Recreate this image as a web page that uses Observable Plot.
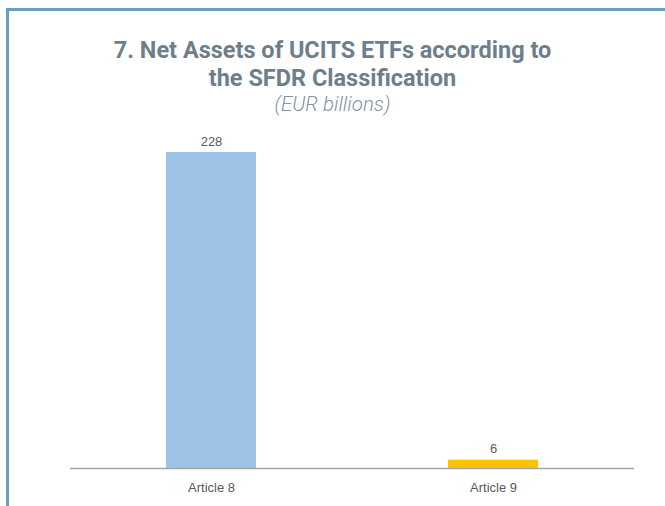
<!DOCTYPE html>
<html><head><meta charset="utf-8">
<script src="https://cdn.jsdelivr.net/npm/d3@7"></script>
<script src="https://cdn.jsdelivr.net/npm/@observablehq/plot@0.6"></script>
<style>
body{margin:0;background:#fff;font-family:Roboto,sans-serif;}
#frame{position:absolute;left:6px;top:8px;width:700px;height:520px;border-left:3px solid #6a9fc4;border-top:3px solid #6a9fc4;}
#title{position:absolute;left:0;width:665px;top:37px;text-align:center;font-family:Roboto,sans-serif;font-weight:700;font-size:23.5px;line-height:27.5px;color:#6e7f8b;}
#sub{position:absolute;left:0;width:665px;top:92px;text-align:center;font-family:Roboto,sans-serif;font-style:italic;font-weight:300;font-size:20.5px;line-height:24px;color:#8592a0;}
#chart{position:absolute;left:0;top:120px;}
</style></head>
<body>
<div id="frame"></div>
<div id="title">7. Net Assets of UCITS ETFs according to<br>the SFDR Classification</div>
<div id="sub">(EUR billions)</div>
<div id="chart"></div>
<script>
const categories = ["Article 8", "Article 9"];
const values = [228, 6];
const colors = ["#9dc3e6", "#ffc000"];
const data = categories.map((c, i) => ({cat: c, value: values[i], color: colors[i]}));

const chart = Plot.plot({
  width: 665,
  height: 386,
  marginLeft: 70,
  marginRight: 31,
  marginTop: 32,
  marginBottom: 38,
  style: {fontFamily: "Liberation Sans, Arial, sans-serif", fontSize: "13px", background: "transparent"},
  x: {domain: categories, paddingInner: 0.68, paddingOuter: 0.34, label: null, tickSize: 0, tickPadding: 14},
  y: {domain: [0, 228], axis: null},
  marks: [
    Plot.barY(data, {x: "cat", y: "value", fill: "color"}),
    Plot.ruleY([0], {stroke: "#a6a6a6", strokeWidth: 1.5}),
    Plot.text(data, {x: "cat", y: "value", text: d => String(d.value), dy: -11, fill: "#595959", fontSize: 13})
  ]
});
chart.querySelectorAll('g[aria-label="x-axis tick label"]').forEach(e => e.setAttribute("fill", "#595959"));
document.getElementById("chart").appendChild(chart);
</script>
</body></html>
